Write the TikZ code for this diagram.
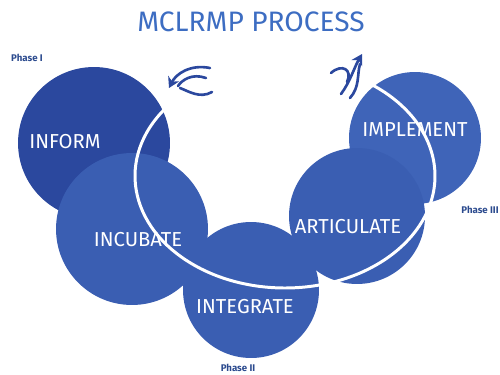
\documentclass[tikz,border=0pt]{standalone}
\usepackage{fontspec}
\setmainfont{Fira Sans}
\usetikzlibrary{arrows.meta}
\definecolor{deepblue}{HTML}{2B489E}
\definecolor{midblue}{HTML}{3A5EB2}
\definecolor{lightblue}{HTML}{3F64B8}
\definecolor{titleblue}{HTML}{3D6DC2}
\definecolor{tagblue}{HTML}{2B4A8E}
\begin{document}
\begin{tikzpicture}[x=0.02cm,y=-0.02cm]
	\tikzset{phase/.style={circle, fill=midblue, inner sep=0pt},
	  word/.style={text=white, font=\fontsize{11.5}{13}\selectfont},
	  tag/.style={text=tagblue, font=\bfseries\fontsize{5.5}{6}\selectfont},
	  swirl/.style={draw=deepblue, line width=1.5pt, line cap=round}
	}
	\useasboundingbox (0,0) rectangle (500,375);
	\node (title) at (251,22) [text=titleblue, font=\fontsize{16}{19}\selectfont] {MCLRMP PROCESS};
	% circles
	\node (ph1n1) at (94,143) [phase, fill=deepblue, minimum size=3.04cm] {};
	\node (ph3n2) at (415,138) [phase, fill=lightblue, minimum size=2.64cm] {};
	\node (ph2n1) at (251,290) [phase, minimum size=2.72cm] {};
	\node (ph1n2) at (132,229) [phase, minimum size=3.04cm] {};
	\node (ph3n1) at (357,216) [phase, minimum size=2.72cm] {};
	% white path
	\draw[white, line width=1.7pt] (285,176) ++(-140:150 and 112)
	  arc[start angle=-140, end angle=-418, x radius=150, y radius=112];
	% labels
	\node (l1) at (65,142) [word] {INFORM};
	\node (l2) at (138,240) [word] {INCUBATE};
	\node (l3) at (245,307) [word] {INTEGRATE};
	\node (l4) at (348,227) [word] {ARTICULATE};
	\node (l5) at (415,130) [word] {IMPLEMENT};
	\node (t1) at (27,58) [tag] {Phase I};
	\node (t2) at (238,368) [tag] {Phase II};
	\node (t3) at (480,210) [tag] {Phase III};
	% arrows
	\draw[swirl, -{Stealth[length=6pt,width=7pt]}] (210,68) .. controls (190,64) and (176,74) .. (169,88);
	\draw[swirl] (206,78) .. controls (192,73) and (182,80) .. (178,86);
	\draw[swirl] (212,92) .. controls (200,99) and (188,91) .. (180,88);
	\draw[swirl, -{Stealth[length=6pt,width=7pt]}] (341,94) .. controls (350,82) and (354,68) .. (362,54);
	\draw[swirl] (331,73) .. controls (342,63) and (353,70) .. (347,82);
	\draw[swirl] (350,98) .. controls (360,87) and (357,74) .. (360,64);
\end{tikzpicture}
\end{document}
